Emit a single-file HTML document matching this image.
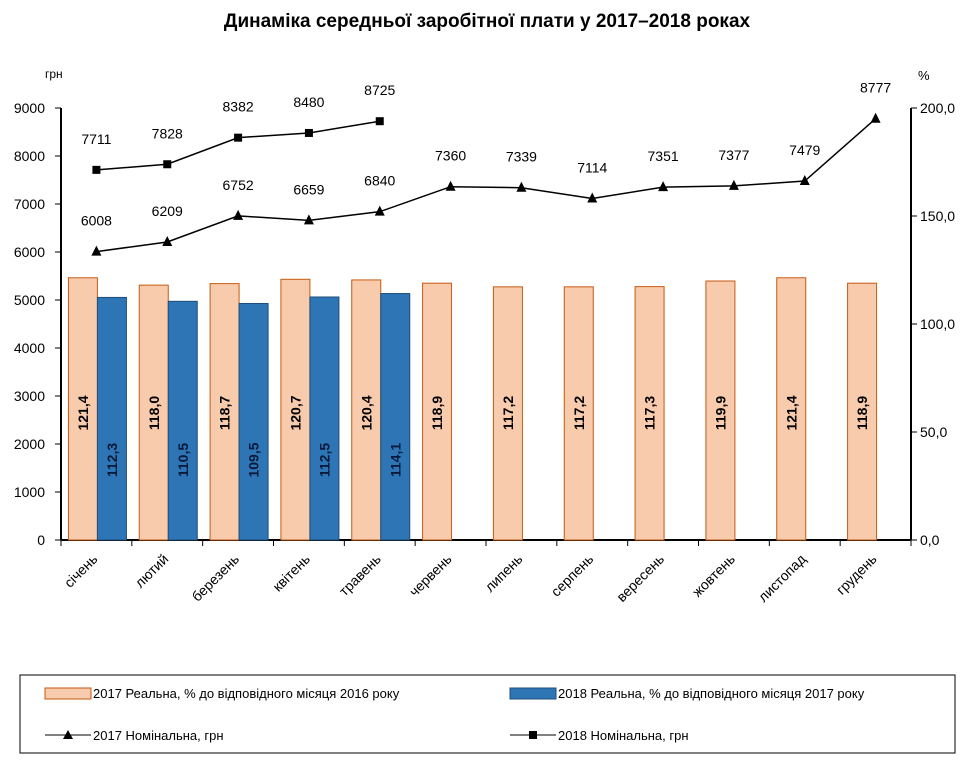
<!DOCTYPE html>
<html><head><meta charset="utf-8"><style>
body{margin:0;background:#fff;}
svg text{font-family:"Liberation Sans","DejaVu Sans",sans-serif;}
</style></head><body>
<svg width="974" height="768" xmlns="http://www.w3.org/2000/svg" id="chart">
<text x="487" y="27" text-anchor="middle" font-size="19" font-weight="bold" fill="#000">Динаміка середньої заробітної плати у 2017–2018 роках</text>
<g id="plot"></g>
<g>
<rect x="20" y="675" width="935" height="78" fill="none" stroke="#000" stroke-width="1"/>
<rect x="45" y="688" width="46" height="11" fill="#f8cbad" stroke="#c55a11" stroke-width="1"/>
<text x="93" y="698" font-size="13">2017 Реальна, % до відповідного місяця 2016 року</text>
<rect x="510" y="688" width="46" height="11" fill="#2e75b6" stroke="#1f4e79" stroke-width="1"/>
<text x="558" y="698" font-size="13">2018 Реальна, % до відповідного місяця 2017 року</text>
<line x1="45" y1="735" x2="91" y2="735" stroke="#000"/>
<polygon points="68,730 73,739 63,739" fill="#000"/>
<text x="93" y="740" font-size="13">2017 Номінальна, грн</text>
<line x1="510" y1="735" x2="556" y2="735" stroke="#000"/>
<rect x="529" y="731" width="8" height="8" fill="#000"/>
<text x="558" y="740" font-size="13">2018 Номінальна, грн</text>
</g>
</svg>
<script>
const months=["січень","лютий","березень","квітень","травень","червень","липень","серпень","вересень","жовтень","листопад","грудень"];
const real2017=[121.4,118.0,118.7,120.7,120.4,118.9,117.2,117.2,117.3,119.9,121.4,118.9];
const real2018=[112.3,110.5,109.5,112.5,114.1];
const nom2017=[6008,6209,6752,6659,6840,7360,7339,7114,7351,7377,7479,8777];
const nom2018=[7711,7828,8382,8480,8725];
const leftTicks=[0,1000,2000,3000,4000,5000,6000,7000,8000,9000];
const rightTicks=["0,0","50,0","100,0","150,0","200,0"];

const NS="http://www.w3.org/2000/svg";
const g=document.getElementById('plot');
const L=61,R=911,T=108,B=540;
const cw=(R-L)/months.length;
const yL=v=>B-v/9000*(B-T);
const yR=v=>B-v/200*(B-T);
const xc=i=>L+cw*(i+0.5);
const fmt=v=>v.toFixed(1).replace('.',',');
function el(tag,attrs,txt){const e=document.createElementNS(NS,tag);for(const k in attrs)e.setAttribute(k,attrs[k]);if(txt!==undefined)e.textContent=txt;g.appendChild(e);return e;}

let a=el('line',{x1:L,y1:T,x2:L,y2:B,stroke:'#000','stroke-width':2});


a=el('line',{x1:R,y1:T,x2:R,y2:B,stroke:'#000','stroke-width':2});


a=el('line',{x1:L,y1:B,x2:R,y2:B,stroke:'#000','stroke-width':2});


leftTicks.forEach(v=>{
  el('line',{x1:L-6,y1:yL(v),x2:L,y2:yL(v),stroke:'#000'});
  const t=el('text',{x:L-16,y:yL(v)+5,'text-anchor':'end','font-size':14},String(v));
  
  
});
rightTicks.forEach((s,i)=>{
  const v=i*50;
  el('line',{x1:R,y1:yR(v),x2:R+6,y2:yR(v),stroke:'#000'});
  const t=el('text',{x:R+9,y:yR(v)+5,'font-size':14},s);
  
  
});
let u=el('text',{x:45,y:78,'font-size':12},'грн');


u=el('text',{x:918,y:80,'font-size':13},'%');


for(let i=0;i<=months.length;i++){el('line',{x1:L+cw*i,y1:B,x2:L+cw*i,y2:B+6,stroke:'#000'});}
months.forEach((m,i)=>{
  const x=xc(i)+2,y=B+20;
  const t=el('text',{x:x,y:y,'font-size':14,'text-anchor':'end',transform:`rotate(-45 ${x} ${y})`},m);
  
  
});
const bw=29;
real2017.forEach((v,i)=>{
  const x=xc(i)-28,y=yR(v);
  const r=el('rect',{x:x,y:y,width:bw,height:B-y,fill:'#f8cbad',stroke:'#c55a11','stroke-width':1});
  
  
  const cx=x+bw/2+5,cy=413;
  const t=el('text',{x:cx,y:cy,'font-size':14,'font-weight':'bold','text-anchor':'middle',fill:'#000',transform:`rotate(-90 ${cx} ${cy})`},fmt(v));
  
  
});
real2018.forEach((v,i)=>{
  const x=xc(i)+1,y=yR(v);
  const r=el('rect',{x:x,y:y,width:bw,height:B-y,fill:'#2e75b6',stroke:'#1f4e79','stroke-width':1});
  
  
  const cx=x+bw/2+5,cy=460;
  const t=el('text',{x:cx,y:cy,'font-size':14,'font-weight':'bold','text-anchor':'middle',fill:'#0b1a3a',transform:`rotate(-90 ${cx} ${cy})`},fmt(v));
  
  
});
function line(data,name,marker){
  const p=el('polyline',{points:data.map((v,i)=>xc(i)+','+yL(v)).join(' '),fill:'none',stroke:'#000','stroke-width':1.5});
  
  
  data.forEach((v,i)=>{
    const x=xc(i),y=yL(v);
    let m;
    if(marker==='tri')m=el('polygon',{points:`${x},${y-6} ${x+5},${y+4} ${x-5},${y+4}`,fill:'#000'});
    else m=el('rect',{x:x-4,y:y-4,width:8,height:8,fill:'#000'});
    
    
    const t=el('text',{x:x,y:y-26,'font-size':14,'text-anchor':'middle'},String(v));
    
    
  });
}
line(nom2017,'nominal-2017','tri');
line(nom2018,'nominal-2018','sq');
</script>
</body></html>
